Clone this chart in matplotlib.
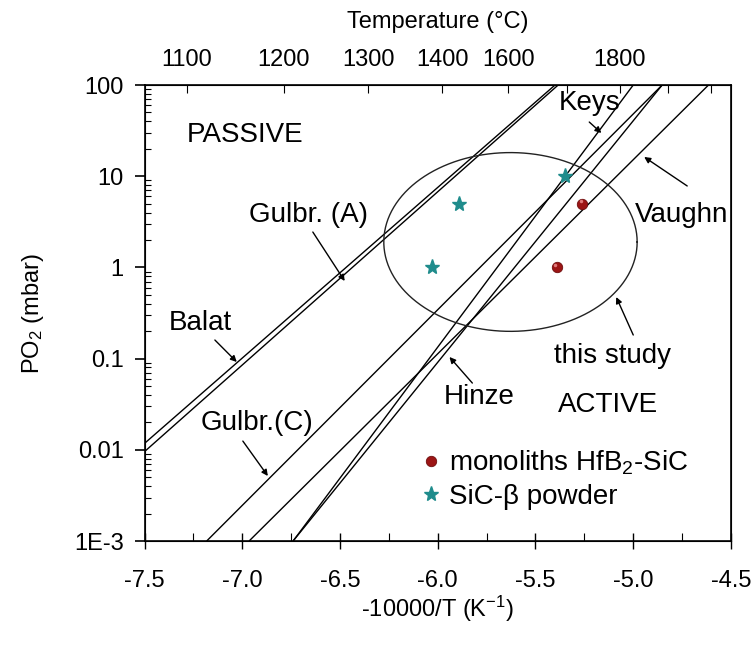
import numpy as np
import matplotlib
matplotlib.use("Agg")
import matplotlib.pyplot as plt
from matplotlib.ticker import FixedLocator, FixedFormatter, LogLocator, NullFormatter, MultipleLocator

plt.rcParams['font.family'] = ['Liberation Sans', 'DejaVu Sans']
plt.rcParams['mathtext.fontset'] = 'custom'
plt.rcParams['mathtext.rm'] = 'Liberation Sans'
plt.rcParams['mathtext.it'] = 'Liberation Sans:italic'
plt.rcParams['mathtext.default'] = 'regular'

# Active/passive boundary lines: -10000/T where pO2 = 1e-3 mbar and where pO2 = 100 mbar
line_names = ["Balat", "Gulbr. (A)", "Gulbr.(C)", "Hinze", "Keys", "Vaughn"]
x_at_low = [-8.016, -8.072, -7.182, -6.740, -6.740, -6.965]
x_at_high = [-5.384, -5.400, -4.852, -4.852, -5.000, -4.615]
p_low, p_high = 1e-3, 100.0

# experimental points
monolith_x = [-5.39, -5.26]
monolith_p = [1.0, 5.0]
powder_x = [-6.03, -5.89, -5.35]
powder_p = [1.0, 5.0, 10.0]

# region of the present study (ellipse in x / log10 pO2)
study_center = (-5.628, 0.279)
study_radii = (0.648, 0.98)

# axes
y_ticks = [1e-3, 1e-2, 1e-1, 1, 10, 100]
y_tick_labels = ["1E-3", "0.01", "0.1", "1", "10", "100"]
x_ticks = [-7.5, -7.0, -6.5, -6.0, -5.5, -5.0, -4.5]
x_tick_labels = ["-7.5", "-7.0", "-6.5", "-6.0", "-5.5", "-5.0", "-4.5"]
top_T = [1100, 1200, 1300, 1400, 1500, 1600, 1700, 1800, 1900]
top_T_labels = ["1100", "1200", "1300", "1400", "1600", "", "1800", "", ""]

FS_AX = 17
FS_TXT = 20

fig = plt.figure(figsize=(7.55, 6.45), dpi=100)
ax = fig.add_axes([0.1914, 0.1612, 0.9682 - 0.1914, 0.8682 - 0.1612])
ax.set_yscale('log')
ax.set_xlim(-7.5, -4.5)
ax.set_ylim(1e-3, 100)

for xl, xh in zip(x_at_low, x_at_high):
    ax.plot([xl, xh], [p_low, p_high], color='black', lw=1.0, solid_capstyle='butt')

t = np.linspace(0, 2 * np.pi, 400)
ex = study_center[0] + study_radii[0] * np.cos(t)
ey = 10 ** (study_center[1] + study_radii[1] * np.sin(t))
ax.plot(ex, ey, color='#222222', lw=1.0)

ax.plot(monolith_x, monolith_p, linestyle='none', marker='o', ms=7.5,
        mfc='#9c1515', mec='#6e0d0d', mew=0.6, label='monoliths HfB$_2$-SiC', zorder=5)
ax.plot(np.array(monolith_x) - 0.008, np.array(monolith_p) * 1.06, linestyle='none',
        marker='o', ms=2.5, mfc='#e07a7a', mec='none', zorder=6)
ax.plot(powder_x, powder_p, linestyle='none', marker='*', ms=11,
        mfc='#1f8c8c', mec='#1f8c8c', label='SiC-β powder', zorder=5)

leg = ax.legend(loc='upper left', bbox_to_anchor=(0.465, 0.203), frameon=False,
                fontsize=FS_TXT, handletextpad=0.15, handlelength=1.0, labelspacing=0.25,
                borderaxespad=0, borderpad=0)

# region labels
ax.text(-6.987, 28.3, "PASSIVE", fontsize=FS_TXT, ha='center', va='center')
ax.text(-5.129, 0.031, "ACTIVE", fontsize=FS_TXT, ha='center', va='center')

arrow_kw = dict(arrowstyle='-|>', color='black', lw=1.0, mutation_scale=9,
                shrinkA=0, shrinkB=0)
labels = [
    ("Keys", (-5.225, 63.5), (-5.225, 10**1.594), (-5.163, 10**1.474)),
    ("Vaughn", (-4.755, 3.76), (-4.724, 10**0.893), (-4.944, 10**1.211)),
    ("Gulbr. (A)", (-6.659, 3.76), (-6.639, 10**0.388), (-6.476, 10**-0.149)),
    ("Balat", (-7.216, 0.245), (-7.140, 10**-0.796), (-7.028, 10**-1.037)),
    ("this study", (-5.104, 0.107), (-5.0, 10**-0.741), (-5.087, 10**-0.325)),
    ("Hinze", (-5.789, 0.0379), (-5.823, 10**-1.268), (-5.940, 10**-0.982)),
    ("Gulbr.(C)", (-6.925, 0.0197), (-6.997, 10**-1.904), (-6.869, 10**-2.287)),
]
for text, tpos, tail, tip in labels:
    ax.text(tpos[0], tpos[1], text, fontsize=FS_TXT, ha='center', va='center')
    ax.annotate("", xy=tip, xytext=tail, arrowprops=arrow_kw)

# bottom / left axes
ax.yaxis.set_major_locator(FixedLocator(y_ticks))
ax.yaxis.set_major_formatter(FixedFormatter(y_tick_labels))
ax.yaxis.set_minor_locator(LogLocator(base=10, subs=np.arange(2, 10)))
ax.yaxis.set_minor_formatter(NullFormatter())
ax.xaxis.set_major_locator(FixedLocator(x_ticks))
ax.xaxis.set_major_formatter(FixedFormatter(x_tick_labels))
ax.xaxis.set_minor_locator(MultipleLocator(0.25))
ax.tick_params(axis='y', which='major', direction='out', length=7, width=1.2,
               labelsize=FS_AX, pad=8)
ax.tick_params(axis='y', which='minor', direction='in', length=4, width=0.8)
ax.tick_params(axis='x', which='major', direction='inout', length=12, width=1.0,
               labelsize=FS_AX, pad=15)
ax.tick_params(axis='x', which='minor', direction='in', length=6, width=0.8)
for s in ax.spines.values():
    s.set_linewidth(1.2)
ax.set_xlabel("-10000/T (K$^{-1}$)", fontsize=FS_AX, labelpad=1)
ax.set_ylabel("PO$_2$ (mbar)", fontsize=FS_AX, labelpad=20)

# top temperature axis
axt = ax.twiny()
axt.set_xlim(ax.get_xlim())
top_pos = [-10000.0 / (T + 273.15) for T in top_T]
axt.xaxis.set_major_locator(FixedLocator(top_pos))
axt.xaxis.set_major_formatter(FixedFormatter(top_T_labels))
axt.tick_params(axis='x', which='major', direction='in', length=6, width=0.8,
                labelsize=FS_AX, pad=10)
axt.set_xlabel("Temperature (°C)", fontsize=FS_AX, labelpad=15)

fig.savefig("out.png", dpi=100)
